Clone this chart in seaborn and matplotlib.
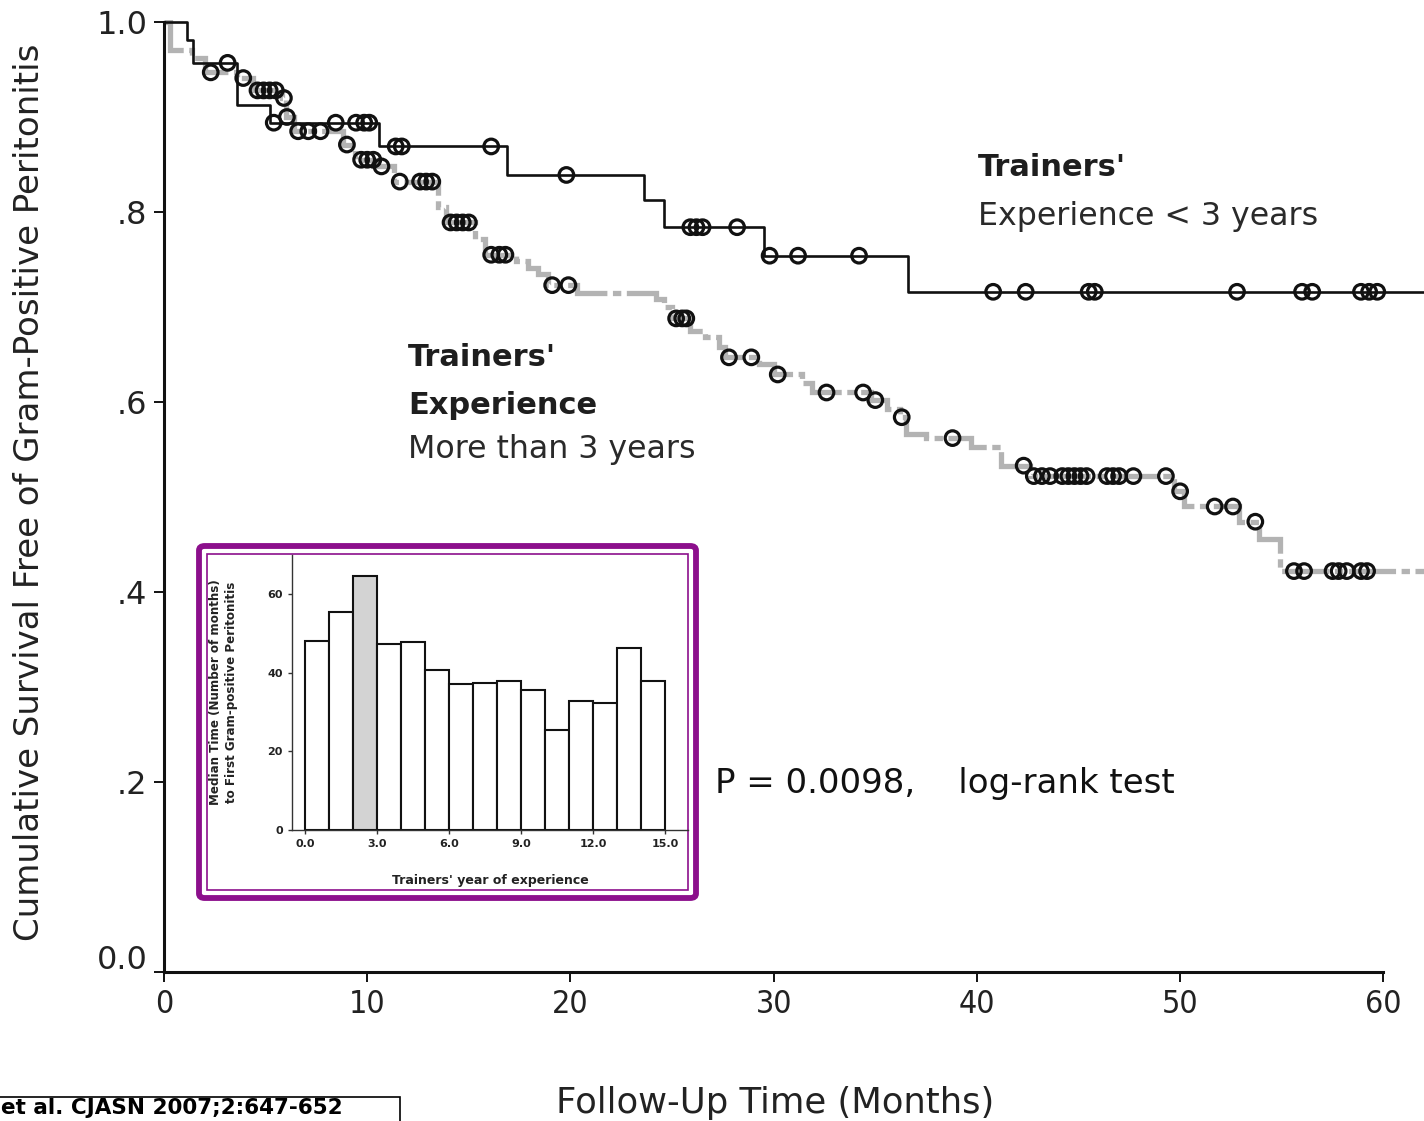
import numpy as np
import pandas as pd
import matplotlib
matplotlib.use("Agg")
import matplotlib.pyplot as plt
from matplotlib.patches import FancyBboxPatch, Rectangle
from matplotlib.transforms import ScaledTranslation
import seaborn as sns

# ---------------- data ----------------
black_times = [0, 1.13, 1.43, 3.57, 5.2, 10.6, 16.9, 23.6, 24.6, 29.5, 36.6]
black_surv = [1.0, 0.981, 0.957, 0.913, 0.894, 0.869, 0.839, 0.813, 0.784, 0.754, 0.716]
black_censor = [3.13, 5.4, 8.45, 9.45, 9.85, 10.1, 11.4, 11.7, 16.1, 19.8, 25.9, 26.2,
                26.5, 28.2, 29.8, 31.2, 34.2, 40.8, 42.4, 45.5, 45.8, 52.8, 56.0, 56.5,
                58.9, 59.3, 59.7]

gray_times = [0, 0.3, 1.4, 2.0, 3.6, 4.4, 5.8, 6.0, 6.4, 8.8, 9.4, 10.5, 11.3, 13.5, 13.9,
              15.3, 15.8, 17.3, 17.9, 18.4, 18.9, 20.3, 24.2, 24.6, 25.0, 25.9, 26.6, 27.3,
              27.6, 29.3, 30.0, 31.4, 31.9, 34.8, 35.6, 36.2, 36.5, 37.5, 39.7, 41.2, 42.6,
              49.7, 50.2, 52.9, 53.9, 54.9]
gray_surv = [1.0, 0.970, 0.962, 0.947, 0.941, 0.928, 0.920, 0.900, 0.885, 0.871, 0.855,
             0.848, 0.832, 0.805, 0.789, 0.772, 0.755, 0.748, 0.741, 0.735, 0.723, 0.715,
             0.708, 0.700, 0.688, 0.675, 0.668, 0.658, 0.647, 0.640, 0.629, 0.620, 0.610,
             0.602, 0.593, 0.584, 0.566, 0.562, 0.553, 0.533, 0.522, 0.506, 0.490, 0.474,
             0.456, 0.422]
gray_censor = [2.3, 3.9, 4.6, 4.9, 5.2, 5.5, 5.9, 6.05, 6.6, 7.1, 7.7, 9.0, 9.7, 10.0, 10.3,
               10.7, 11.6, 12.6, 12.9, 13.2, 14.1, 14.4, 14.7, 15.0, 16.1, 16.5, 16.8, 19.1,
               19.9, 25.2, 25.5, 25.7, 27.8, 28.9, 30.2, 32.6, 34.4, 35.0, 36.3, 38.8, 42.3,
               42.8, 43.2, 43.6, 44.2, 44.5, 44.8, 45.1, 45.4, 46.4, 46.7, 47.0, 47.7, 49.3,
               50.0, 51.7, 52.6, 53.7, 55.6, 56.1, 57.5, 57.8, 58.2, 58.9, 59.2]

x_ticks = [0, 10, 20, 30, 40, 50, 60]
y_ticks = [0.0, 0.2, 0.4, 0.6, 0.8, 1.0]
y_ticklabels = ["0.0", ".2", ".4", ".6", ".8", "1.0"]

inset_years = list(range(15))
inset_median = [48.0, 55.6, 64.7, 47.4, 47.9, 40.7, 37.2, 37.5, 37.9, 35.7, 25.4, 32.9,
                32.3, 46.3, 38.0]
inset_highlight = 2
inset_xticks = [0, 3, 6, 9, 12, 15]
inset_xticklabels = ["0.0", "3.0", "6.0", "9.0", "12.0", "15.0"]
inset_yticks = [0, 20, 40, 60]

X_END = 62.0

# ---------------- style ----------------
sns.set_style("ticks")
plt.rcParams["font.family"] = ["DejaVu Sans"]
plt.rcParams["lines.scale_dashes"] = False

W, H = 1424, 1121
fig = plt.figure(figsize=(W / 100, H / 100), dpi=100)
fig.patch.set_facecolor("white")

def fx(px):
    return px / W

def fy(py):
    return 1 - py / H

ax = fig.add_axes([fx(164), fy(972), 1 - fx(164), (972 - 20) / H])
ax.set_facecolor("white")


def step_frame(times, surv):
    t = list(times) + [X_END]
    s = list(surv) + [surv[-1]]
    return pd.DataFrame({"t": t, "s": s})


def censor_frame(times, surv, cens):
    tt = np.asarray(times)
    ss = np.asarray(surv)
    idx = np.searchsorted(tt, np.asarray(cens), side="right") - 1
    return pd.DataFrame({"t": cens, "s": ss[idx]})


gdf = step_frame(gray_times, gray_surv)
bdf = step_frame(black_times, black_surv)

sns.lineplot(data=gdf, x="t", y="s", drawstyle="steps-post", estimator=None, sort=False,
             color="#b3b3b3", linewidth=3.8, ax=ax, zorder=2)
gline = ax.get_lines()[-1]
gline.set_linestyle((0, (34, 4, 6, 4)))
gline.set_dash_capstyle("butt")
gline.set_dash_joinstyle("miter")

sns.lineplot(data=bdf, x="t", y="s", drawstyle="steps-post", estimator=None, sort=False,
             color="#111111", linewidth=1.9, ax=ax, zorder=3)

gc = censor_frame(gray_times, gray_surv, gray_censor)
bc = censor_frame(black_times, black_surv, black_censor)
for df in (gc, bc):
    sns.scatterplot(data=df, x="t", y="s", marker="o", s=110, facecolors="none",
                    edgecolor="#111111", linewidth=2.3, ax=ax, zorder=4, legend=False)

ax.set_xlim(0, X_END)
ax.set_ylim(0, 1.0 + 2 / 951)
ax.set_xticks(x_ticks)
ax.set_xticklabels([str(v) for v in x_ticks])
ax.set_yticks(y_ticks)
ax.set_yticklabels(y_ticklabels)
ax.set_xlabel("")
ax.set_ylabel("")
for side in ("top", "right"):
    ax.spines[side].set_visible(False)
for side in ("left", "bottom"):
    ax.spines[side].set_linewidth(2.2)
    ax.spines[side].set_color("#111111")
ax.spines["bottom"].set_bounds(0, 60)
ax.spines["left"].set_bounds(0, 1.0)
ax.tick_params(axis="both", direction="out", length=7, width=1.4, colors="#111111",
               labelsize=23, labelcolor="#222222")
ax.tick_params(axis="y", pad=5)
ax.tick_params(axis="x", pad=5)
zero_lab = ax.get_yticklabels()[0]
zero_lab.set_transform(zero_lab.get_transform() + ScaledTranslation(0, 15 / 100, fig.dpi_scale_trans))
for lab in ax.get_xticklabels():
    lab.set_fontstretch("condensed")

# annotations
txt_col = "#1e1e1e"
ax.text(40.04, 0.838, "Trainers'", fontsize=22, fontweight="bold", color=txt_col, va="baseline")
ax.text(40.04, 0.786, "Experience < 3 years", fontsize=22.8, color="#2a2a2a", va="baseline")
ax.text(12.0, 0.638, "Trainers'", fontsize=22, fontweight="bold", color=txt_col, va="baseline")
ax.text(12.0, 0.587, "Experience", fontsize=22, fontweight="bold", color=txt_col, va="baseline")
ax.text(12.0, 0.5415, "More than 3 years", fontsize=22.8, color="#2a2a2a", va="baseline")
ax.text(27.1, 0.188, "P = 0.0098,    log-rank test", fontsize=24.5, color="#111111",
        va="baseline")

fig.text(fx(30), fy(492), "Cumulative Survival Free of Gram-Positive Peritonitis",
         rotation=90, fontsize=24.5, color="#222222", ha="center", va="center")
fig.text(fx(775), fy(1103), "Follow-Up Time (Months)", fontsize=25.5, color="#222222",
         ha="center", va="center")

# citation box
fig.patches.append(Rectangle((fx(-5), fy(1130)), fx(405), (1130 - 1097) / H,
                             transform=fig.transFigure, fill=False, edgecolor="black",
                             linewidth=1.2))
fig.text(fx(1), fy(1114), "et al. CJASN 2007;2:647-652", fontsize=15.5, fontweight="bold",
         family="DejaVu Sans", color="black", ha="left", va="baseline")

# purple frame
purple = "#8c0f8c"
fig.patches.append(FancyBboxPatch((fx(199), fy(898)), fx(497), (898 - 546) / H,
                                  boxstyle="round,pad=0,rounding_size=0.004",
                                  transform=fig.transFigure, facecolor="white",
                                  edgecolor=purple, linewidth=4.2, zorder=5))
fig.patches.append(Rectangle((fx(207), fy(890)), fx(481), (890 - 554) / H,
                             transform=fig.transFigure, fill=False, edgecolor=purple,
                             linewidth=1.2, zorder=6))

# inset
iax = fig.add_axes([fx(292), fy(830), fx(688 - 292), (830 - 555) / H], zorder=10)
iax.patch.set_alpha(0)
idf = pd.DataFrame({"year": inset_years, "median": inset_median})
idf["mid"] = idf["year"] + 0.5
palette_cols = ["#d3d3d3" if y == inset_highlight else "white" for y in inset_years]
sns.barplot(data=idf, x="mid", y="median", native_scale=True, width=1.0,
            hue="year", palette=palette_cols, legend=False, edgecolor="#111111",
            linewidth=1.5, ax=iax, saturation=1)
iax.set_xlim(-0.56, 15.95)
iax.set_ylim(0, 70)
iax.set_xticks(inset_xticks)
iax.set_xticklabels(inset_xticklabels)
iax.set_yticks(inset_yticks)
for side in ("top", "right"):
    iax.spines[side].set_visible(False)
for side in ("left", "bottom"):
    iax.spines[side].set_linewidth(1.0)
    iax.spines[side].set_color("#333333")
iax.tick_params(axis="both", direction="out", length=3, width=1.0, labelsize=8,
                colors="#333333", labelcolor="#222222")
for lab in iax.get_xticklabels() + iax.get_yticklabels():
    lab.set_fontweight("bold")
iax.set_xlabel("Trainers' year of experience", fontsize=9, fontweight="bold",
               color="#222222", labelpad=18)
iax.set_ylabel("Median Time (Number of months)\nto First Gram-positive Peritonitis",
               fontsize=8.6, fontweight="bold", color="#222222", labelpad=21,
               linespacing=1.3)

fig.savefig("out.png", dpi=100, facecolor="white")
